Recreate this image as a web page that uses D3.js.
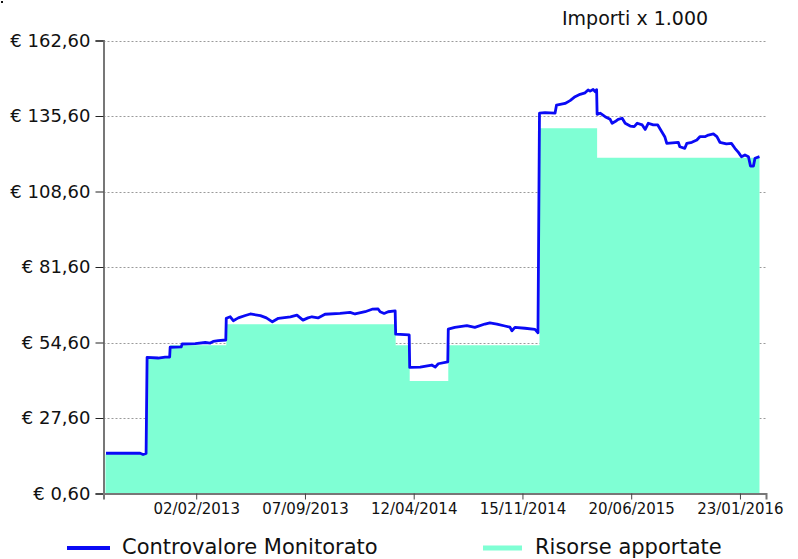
<!DOCTYPE html>
<html>
<head>
<meta charset="utf-8">
<script src="https://cdn.jsdelivr.net/npm/d3@7"></script>
<style>
  html, body { margin: 0; padding: 0; background: #fff; }
  svg { display: block; font-family: "DejaVu Sans", Verdana, sans-serif; }
</style>
</head>
<body>
<svg id="chart" width="798" height="559"></svg>
<script>
// ---- Data ----
const xTickLabels = ["02/02/2013", "07/09/2013", "12/04/2014", "15/11/2014", "20/06/2015", "23/01/2016"];
const yTickValues = [0.6, 27.6, 54.6, 81.6, 108.6, 135.6, 162.6];

const lineDates = [
  "2012-08-06","2012-10-13","2012-10-19","2012-10-25","2012-10-27","2012-11-18","2012-12-02","2012-12-11",
  "2012-12-12","2013-01-03","2013-01-05","2013-01-31","2013-02-20","2013-03-02","2013-03-08","2013-03-18",
  "2013-04-02","2013-04-03","2013-04-11","2013-04-17","2013-04-27","2013-05-11","2013-05-21","2013-06-10",
  "2013-06-22","2013-07-04","2013-07-16","2013-08-09","2013-08-22","2013-09-03","2013-09-13","2013-09-21",
  "2013-10-03","2013-10-17","2013-11-16","2013-12-06","2013-12-16","2014-01-05","2014-01-19","2014-01-31",
  "2014-02-04","2014-02-12","2014-02-20","2014-03-06","2014-03-07","2014-04-03","2014-04-04","2014-04-25",
  "2014-05-18","2014-05-25","2014-05-31","2014-06-19","2014-06-20","2014-07-03","2014-07-27","2014-08-12",
  "2014-09-01","2014-09-11","2014-09-25","2014-10-11","2014-10-21","2014-10-25","2014-10-31","2014-11-20",
  "2014-12-10","2014-12-16","2014-12-19","2014-12-30","2015-01-19","2015-01-22","2015-02-08","2015-02-18",
  "2015-02-28","2015-03-10","2015-03-20","2015-03-26","2015-03-30","2015-04-05","2015-04-09","2015-04-12",
  "2015-04-13","2015-04-19","2015-04-29","2015-05-09","2015-05-13","2015-05-19","2015-05-25","2015-06-02",
  "2015-06-08","2015-06-18","2015-06-26","2015-07-02","2015-07-12","2015-07-18","2015-07-24","2015-08-03",
  "2015-08-12","2015-08-20","2015-08-26","2015-08-30","2015-09-22","2015-09-25","2015-10-05","2015-10-09",
  "2015-10-19","2015-10-29","2015-11-04","2015-11-14","2015-11-21","2015-12-01","2015-12-08","2015-12-14",
  "2015-12-27","2016-01-06","2016-01-13","2016-01-20","2016-01-26","2016-02-02","2016-02-09","2016-02-13",
  "2016-02-19","2016-02-22","2016-03-02"
];
const lineValues = [
  15.0, 15.0, 14.55, 14.9, 49.3, 49.05, 49.4, 49.4,
  52.9, 53.0, 54.06, 54.2, 54.6, 54.4, 55.0, 55.3,
  55.5, 63.25, 63.8, 62.4, 63.4, 64.25, 64.8, 64.2,
  63.4, 62.0, 63.25, 63.8, 64.4, 62.6, 63.4, 63.8,
  63.4, 64.7, 65.05, 65.4, 64.8, 65.6, 66.5, 66.6,
  65.6, 65.0, 65.6, 65.9, 57.6, 57.3, 45.7, 45.8,
  46.55, 45.8, 47.0, 47.7, 59.4, 60.0, 60.6, 60.0,
  61.2, 61.6, 61.2, 60.5, 60.1, 58.8, 60.0, 59.7,
  59.3, 58.1, 136.6, 136.8, 136.6, 139.5, 140.1, 141.1,
  142.5, 143.35, 143.9, 144.9, 144.5, 145.1, 144.3, 145.0,
  136.2, 136.6, 135.35, 134.4, 133.0, 133.6, 134.4, 134.8,
  133.0, 132.0, 131.8, 133.0, 132.4, 130.8, 133.0, 132.4,
  132.4, 130.0, 128.2, 125.8, 126.2, 124.6, 124.05, 125.8,
  126.2, 127.0, 128.2, 128.2, 128.8, 129.2, 128.2, 126.2,
  125.6, 125.8, 124.05, 122.6, 121.05, 121.65, 121.05, 117.7,
  117.7, 120.5, 121.05
];

const areaDates  = ["2012-08-05","2012-10-27","2012-12-12","2013-04-03","2014-03-07","2014-04-04","2014-06-20","2014-12-19","2015-04-13","2016-03-02"];
const areaValues = [14.6, 49.2, 53.6, 61.1, 53.6, 40.8, 53.6, 131.2, 120.7, 120.7];

const seriesNames = ["Controvalore Monitorato", "Risorse apportate"];
const seriesColors = ["#0a0af5", "#7fffd4"];
const unitNote = "Importi x 1.000";

// ---- Chart ----
const svg = d3.select("#chart");
const parseISO = d3.timeParse("%Y-%m-%d");
const parseTick = d3.timeParse("%d/%m/%Y");
const fmtTick = d3.timeFormat("%d/%m/%Y");

const x = d3.scaleTime()
  .domain([parseISO("2012-08-01"), parseISO("2016-03-15")])
  .range([103.5, 766]);
const y = d3.scaleLinear()
  .domain([0.6, 162.6])
  .range([493.5, 40.5]);

const lineData = lineDates.map((d, i) => ({ date: parseISO(d), value: lineValues[i] }));
const areaData = areaDates.map((d, i) => ({ date: parseISO(d), value: areaValues[i] }));

// gridlines
svg.append("g")
  .selectAll("line")
  .data(yTickValues.filter(v => v !== y.domain()[0]))
  .join("line")
  .attr("x1", x.range()[0]).attr("x2", x.range()[1])
  .attr("y1", d => Math.round(y(d)) + 0.5).attr("y2", d => Math.round(y(d)) + 0.5)
  .attr("stroke", "#9a9a9a")
  .attr("stroke-width", 1)
  .attr("stroke-dasharray", "2,2");

// area
svg.append("path")
  .datum(areaData)
  .attr("fill", seriesColors[1])
  .attr("d", d3.area()
    .curve(d3.curveStepAfter)
    .x(d => x(d.date))
    .y0(y(0.6))
    .y1(d => y(d.value)));

// line
svg.append("path")
  .datum(lineData)
  .attr("fill", "none")
  .attr("stroke", seriesColors[0])
  .attr("stroke-width", 2.8)
  .attr("stroke-linejoin", "round")
  .attr("d", d3.line()
    .x(d => x(d.date))
    .y(d => y(d.value)));

// y axis
const yAxis = svg.append("g")
  .attr("transform", `translate(${x.range()[0]},0)`)
  .call(d3.axisLeft(y)
    .tickValues(yTickValues)
    .tickSize(8)
    .tickPadding(5)
    .tickFormat(v => "€ " + v.toFixed(2).replace(".", ",")));
yAxis.select(".domain").attr("stroke", "#777").attr("stroke-width", 2);
yAxis.selectAll(".tick line").attr("stroke", "#222");
yAxis.selectAll(".tick text")
  .attr("font-size", 18)
  .attr("font-family", "DejaVu Sans, Verdana, sans-serif")
  .attr("fill", "#111");

// x axis
const xAxis = svg.append("g")
  .attr("transform", `translate(0,${y.range()[0]})`)
  .call(d3.axisBottom(x)
    .tickValues(xTickLabels.map(parseTick))
    .tickSize(6)
    .tickPadding(4)
    .tickFormat(fmtTick));
xAxis.select(".domain").attr("stroke", "#777").attr("stroke-width", 2);
xAxis.selectAll(".tick line").attr("stroke", "#444");
xAxis.selectAll(".tick text")
  .attr("font-size", 15)
  .attr("font-family", "DejaVu Sans, Verdana, sans-serif")
  .attr("fill", "#111");

// unit note
svg.append("text")
  .attr("x", 562).attr("y", 25)
  .attr("font-size", 19)
  .attr("fill", "#111")
  .text(unitNote);

// small mark top-left
svg.append("rect").attr("x", 1).attr("y", 1).attr("width", 2).attr("height", 2).attr("fill", "#111");

// legend
const legend = [
  { name: seriesNames[0], color: seriesColors[0], x1: 67, x2: 110, w: 4, tx: 122 },
  { name: seriesNames[1], color: seriesColors[1], x1: 483, x2: 522, w: 5, tx: 535 }
];
const lg = svg.append("g");
lg.selectAll("line").data(legend).join("line")
  .attr("x1", d => d.x1).attr("x2", d => d.x2)
  .attr("y1", 548).attr("y2", 548)
  .attr("stroke", d => d.color).attr("stroke-width", d => d.w);
lg.selectAll("text").data(legend).join("text")
  .attr("x", d => d.tx).attr("y", 554)
  .attr("font-size", 21)
  .attr("fill", "#111")
  .text(d => d.name);
</script>
</body>
</html>
